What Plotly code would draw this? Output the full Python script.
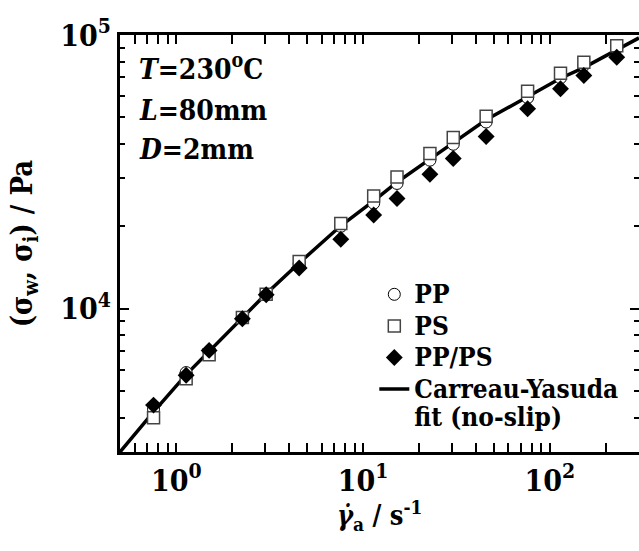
import plotly.graph_objects as go

# shear rate (s^-1)
shear_rate = [0.756, 1.13, 1.50, 2.26, 3.03, 4.55, 7.6, 11.4, 15.2, 22.8, 30.4, 45.6, 76, 114, 152, 228]
# wall shear stress (Pa)
pp = [4300, 5850, 7000, 9300, 11300, 14600, 20000, 24300, 28700, 34900, 39900, 48100, 59000, 69700, 77500, 89500]
ps = [4000, 5550, 6800, 9300, 11300, 14900, 20500, 25800, 30300, 36900, 42200, 50500, 62300, 72500, 79500, 91400]
pp_ps = [4450, 5720, 7050, 9200, 11250, 14100, 17950, 22000, 25300, 31000, 35400, 42600, 53800, 63600, 71100, 82900]
# Carreau-Yasuda fit curve
fit_x = [0.5, 0.756, 1.13, 1.5, 2.26, 3.03, 4.55, 7.6, 11.4, 15.2, 22.8, 30.4, 45.6, 76, 114, 152, 228, 300]
fit_y = [3000, 4200, 5750, 7000, 9300, 11350, 14700, 20100, 24800, 29000, 35200, 40300, 49000, 59500, 69500, 76000, 88500, 97600]

x_tickvals = [1, 10, 100]
x_ticktext = ["10<sup>0</sup>", "10<sup>1</sup>", "10<sup>2</sup>"]
y_tickvals = [1e4, 1e5]
y_ticktext = ["10<sup>4</sup>", "10<sup>5</sup>"]

FONT = "DejaVu Serif Condensed, DejaVu Serif"

x_minor = [m * 10 ** e for e in range(-1, 3) for m in range(2, 10) if 0.5 < m * 10 ** e < 300]
y_minor = [m * 10 ** e for e in range(3, 5) for m in range(2, 10) if 3000 < m * 10 ** e < 1e5]

LEG = '<span style="font-size:26px">%s</span>'

fig = go.Figure()
fig.add_trace(go.Scatter(x=fit_x, y=fit_y, mode="lines",
                         name=LEG % "Carreau-Yasuda" + "<br>" + LEG % "fit (no-slip)",
                         line=dict(color="black", width=3.5), legendrank=4))
fig.add_trace(go.Scatter(x=shear_rate, y=pp, mode="markers", name=LEG % "PP", legendrank=1,
                         marker=dict(symbol="circle", size=12, color="white",
                                     line=dict(color="black", width=1))))
fig.add_trace(go.Scatter(x=shear_rate, y=ps, mode="markers", name=LEG % "PS", legendrank=2,
                         marker=dict(symbol="square", size=12, color="white",
                                     line=dict(color="#444", width=1.5))))
fig.add_trace(go.Scatter(x=shear_rate, y=pp_ps, mode="markers", name=LEG % "PP/PS", legendrank=3,
                         yaxis="y2",
                         marker=dict(symbol="diamond", size=13, color="black",
                                     line=dict(color="black", width=0))))

axis_common = dict(type="log", ticks="inside", tickcolor="black", tickwidth=2, ticklen=9,
                   showgrid=False, zeroline=False, linecolor="black", linewidth=3,
                   tickfont=dict(family=FONT, size=30, color="black", weight="bold"))

fig.update_layout(
    width=639, height=551,
    margin=dict(l=120, r=0, t=35, b=99),
    paper_bgcolor="white", plot_bgcolor="white",
    font=dict(family=FONT, color="black"),
    showlegend=True,
    legend=dict(x=0.49, y=0.428, xanchor="left", yanchor="top", bgcolor="rgba(0,0,0,0)",
                font=dict(family=FONT, size=22, color="black", weight="bold"),
                valign="top", tracegroupgap=0),
    xaxis=dict(range=[-0.30103, 2.4771], tickmode="array", tickvals=x_tickvals, ticktext=x_ticktext,
               showline=True, mirror="allticks",
               minor=dict(tickmode="array", tickvals=x_minor, ticks="inside", ticklen=5,
                          tickwidth=2, tickcolor="black", showgrid=False),
               **axis_common),
    yaxis=dict(range=[3.4771, 5], tickmode="array", tickvals=y_tickvals, ticktext=y_ticktext,
               showline=True, mirror=False,
               minor=dict(tickmode="array", tickvals=y_minor, ticks="inside", ticklen=5,
                          tickwidth=2, tickcolor="black", showgrid=False),
               title=dict(text="(σ<sub>w</sub>, σ<sub>i</sub>) / Pa", standoff=20,
                          font=dict(family=FONT, size=29, color="black", weight="bold")),
               **axis_common),
    yaxis2=dict(overlaying="y", side="right", type="log", range=[3.4771, 5], showline=False,
                tickmode="array", tickvals=y_tickvals, showticklabels=False,
                ticks="inside", ticklen=9, tickwidth=2, tickcolor="black",
                minor=dict(tickmode="array", tickvals=y_minor, ticks="inside", ticklen=5,
                           tickwidth=2, tickcolor="black", showgrid=False),
                showgrid=False, zeroline=False),
)

# x-axis title
fig.add_annotation(xref="paper", yref="paper", x=0.5, y=-0.152, xanchor="center", yanchor="middle",
                   showarrow=False, text="<i>γ̇</i><sub>a</sub> / s<sup>-1</sup>",
                   font=dict(family=FONT, size=27, color="black", weight="bold"))

# conditions
cond_font = dict(family=FONT, size=28, color="black", weight="bold")
fig.add_annotation(xref="paper", yref="paper", x=0.033, y=0.923, xanchor="left", yanchor="middle",
                   showarrow=False, text="<i>T</i>=230<sup>o</sup>C", font=cond_font)
fig.add_annotation(xref="paper", yref="paper", x=0.033, y=0.8187, xanchor="left", yanchor="middle",
                   showarrow=False, text="<i>L</i>=80mm", font=cond_font)
fig.add_annotation(xref="paper", yref="paper", x=0.033, y=0.7251, xanchor="left", yanchor="middle",
                   showarrow=False, text="<i>D</i>=2mm", font=cond_font)

fig.write_html("out.html")
